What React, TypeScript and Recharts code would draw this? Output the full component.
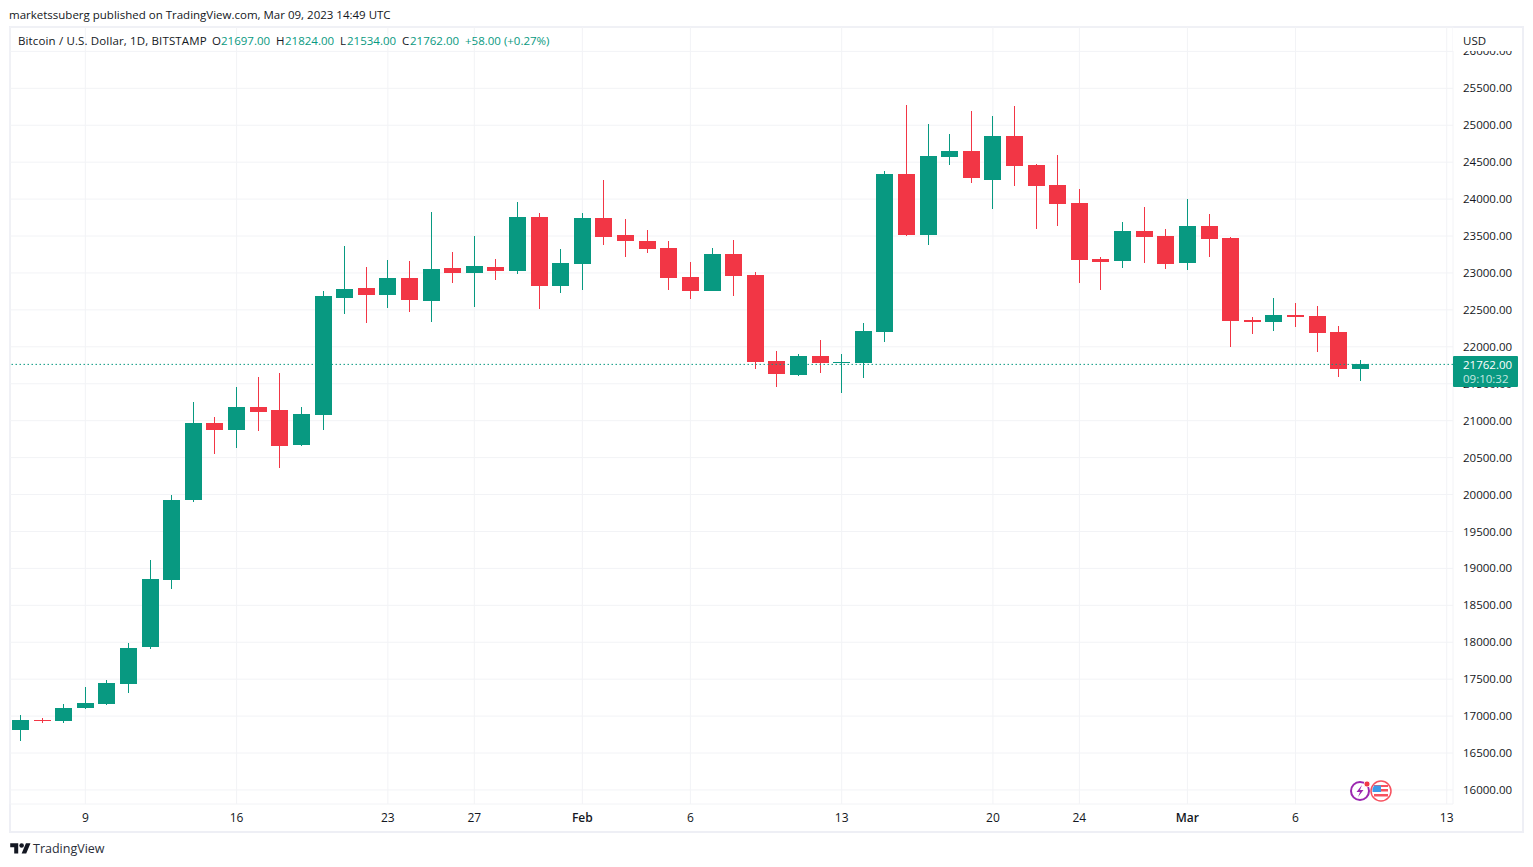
import React from 'react';
import { ComposedChart, Bar, XAxis, YAxis, CartesianGrid, ReferenceLine } from 'recharts';

const GREEN = '#089981';
const RED = '#f23645';
const INK = '#131722';
const GRID = '#f2f3f6';
const FRAME = '#eeeff5';
const FONT = "'Open Sans', sans-serif";

// daily BTCUSD candles, Jan 6 to Mar 9 2023
const opens = [
  16811, 16948, 16934, 17110, 17164, 17435, 17936, 18843, 19927, 20969, 20874, 21186, 21145,
  20671, 21078, 22662, 22797, 22702, 22932, 22621, 23068, 23000, 23081, 23027, 23758, 22824,
  23122, 23745, 23515, 23433, 23339, 22946, 22756, 23257, 22973, 21809, 21619, 21876, 21782,
  21782, 22201, 24341, 23515, 24571, 24652, 24259, 24855, 24462, 24192, 23948, 23190, 23163,
  23569, 23501, 23136, 23637, 23474, 22364, 22337, 22432, 22418, 22201, 21697,
];
const highs = [
  17015, 16971, 17164, 17395, 17489, 17990, 19114, 19994, 21254, 21050, 21457, 21592, 21646,
  21186, 22756, 23366, 23081, 23176, 23163, 23826, 23285, 23501, 23190, 23962, 23813, 23325,
  23813, 24259, 23731, 23582, 23433, 23149, 23339, 23447, 23014, 21944, 21903, 22093, 21903,
  22323, 24381, 25275, 25018, 24882, 25194, 25126, 25261, 24476, 24598, 24138, 23217, 23691,
  23894, 23596, 24002, 23799, 23488, 22404, 22662, 22594, 22553, 22283, 21824,
];
const lows = [
  16662, 16911, 16911, 17100, 17150, 17313, 17909, 18722, 19900, 20549, 20631, 20861, 20360,
  20658, 20874, 22445, 22323, 22526, 22472, 22337, 22865, 22540, 22905, 22987, 22513, 22729,
  22770, 23379, 23217, 23271, 22770, 22648, 22750, 22689, 21700, 21457, 21610, 21646, 21375,
  21578, 22066, 23500, 23379, 24462, 24219, 23867, 24178, 23596, 23637, 22865, 22770, 23068,
  23136, 23054, 23041, 23217, 21998, 22174, 22215, 22269, 21931, 21592, 21534,
];
const closes = [
  16947, 16930, 17110, 17178, 17449, 17923, 18857, 19927, 20969, 20874, 21186, 21118, 20658,
  21091, 22689, 22784, 22702, 22932, 22635, 23054, 23000, 23095, 23027, 23758, 22824, 23136,
  23745, 23488, 23433, 23325, 22932, 22756, 23257, 22960, 21795, 21633, 21876, 21782, 21795,
  22215, 24341, 23515, 24584, 24652, 24286, 24855, 24449, 24178, 23934, 23176, 23149, 23569,
  23488, 23122, 23637, 23461, 22350, 22337, 22432, 22404, 22188, 21700, 21762,
];

const priceTicks = [
  16000, 16500, 17000, 17500, 18000, 18500, 19000, 19500, 20000, 20500, 21000, 21500, 22000,
  22500, 23000, 23500, 24000, 24500, 25000, 25500, 26000,
];
const dayTicks = [3, 10, 17, 21, 26, 31, 38, 45, 49, 54, 59, 66];
const dayLabels = ['9', '16', '23', '27', 'Feb', '6', '13', '20', '24', 'Mar', '6', '13'];

const lastPrice = 21762;

const candles = opens.map((open, i) => ({
  idx: i,
  open,
  high: highs[i],
  low: lows[i],
  close: closes[i],
  range: [lows[i], highs[i]],
}));

const Candle = (props: any) => {
  const { x, y, width, height, payload } = props;
  const { open, high, low, close } = payload;
  const perUnit = height / (high - low);
  // snap to whole pixels so bodies and wicks stay crisp
  const left = Math.round(x + 0.3);
  const wickTop = Math.round(y);
  const wickBottom = Math.round(y + height);
  const top = Math.round(y + (high - Math.max(open, close)) * perUnit);
  const bottom = Math.round(y + (high - Math.min(open, close)) * perUnit);
  const color = close >= open ? GREEN : RED;
  return (
    <g shapeRendering="crispEdges">
      <rect x={left + 8} y={wickTop} width={1} height={wickBottom - wickTop} fill={color} />
      <rect x={left} y={top} width={width} height={Math.max(bottom - top, 1)} fill={color} />
    </g>
  );
};

const DayTick = (props: any) => {
  const { x, y, payload } = props;
  const label = dayLabels[dayTicks.indexOf(payload.value)];
  const isMonth = label === 'Feb' || label === 'Mar';
  return (
    <text x={x} y={y} textAnchor="middle" dominantBaseline="central" fontFamily={FONT} fontSize={12} fontWeight={isMonth ? 600 : 400} fill={INK}>
      {label}
    </text>
  );
};

const abs = (left: number, top: number): React.CSSProperties => ({
  position: 'absolute',
  left,
  top,
  fontFamily: FONT,
  fontSize: 11.5,
  lineHeight: '16px',
  color: INK,
  whiteSpace: 'nowrap',
});

const legend: [number, string, string][] = [
  [212, 'O', INK],
  [221, '21697.00', GREEN],
  [276, 'H', INK],
  [285, '21824.00', GREEN],
  [340, 'L', INK],
  [347, '21534.00', GREEN],
  [402, 'C', INK],
  [410, '21762.00', GREEN],
  [465, '+58.00 (+0.27%)', GREEN],
];

export default function App() {
  return (
    <div style={{ position: 'absolute', left: 0, top: 0, width: 1533, height: 867, background: '#fff', overflow: 'hidden' }}>
      <div style={{ position: 'absolute', left: 9, top: 26, width: 1515, height: 807, boxSizing: 'border-box', border: `2px solid ${FRAME}` }} />
      <div style={{ position: 'absolute', left: 0, top: 0 }}>
        <ComposedChart
          width={1533}
          height={867}
          data={candles}
          margin={{ top: 27, right: 10, bottom: 36, left: 10 }}
        >
          <CartesianGrid stroke={GRID} strokeWidth={1} />
          <XAxis
            dataKey="idx"
            type="number"
            domain={[-0.486, 66.29]}
            ticks={dayTicks}
            interval={0}
            height={27}
            axisLine={false}
            tickLine={false}
            tickSize={0}
            tickMargin={13}
            tick={<DayTick />}
          />
          <YAxis
            orientation="right"
            type="number"
            domain={[15810, 26330]}
            ticks={priceTicks}
            interval={0}
            width={70}
            axisLine={false}
            tickLine={false}
            tickSize={0}
            tickMargin={10}
            tick={{ fontFamily: FONT, fontSize: 11.5, fill: INK }}
            tickFormatter={(v: number) => v.toFixed(2)}
          />
          <Bar dataKey="range" barSize={17} isAnimationActive={false} shape={<Candle />} />
          <ReferenceLine y={lastPrice} stroke={GREEN} strokeWidth={1} strokeDasharray="1.5 2.5" />
        </ComposedChart>
      </div>
      <div style={abs(9, 7)}>marketssuberg published on TradingView.com, Mar 09, 2023 14:49 UTC</div>
      <div style={{ ...abs(18, 33), letterSpacing: 0.14 }}>Bitcoin / U.S. Dollar, 1D, BITSTAMP</div>
      {legend.map(([left, text, color]) => (
        <div key={left} style={{ ...abs(left, 33), color }}>{text}</div>
      ))}
      <div style={{ ...abs(1453, 28), width: 68, height: 23, background: '#fff', paddingLeft: 10, boxSizing: 'border-box', lineHeight: '25px' }}>USD</div>
      <div style={{ position: 'absolute', left: 1453, top: 356, width: 65, height: 31, background: GREEN, borderRadius: 1 }} />
      <div style={{ ...abs(1463, 357), color: '#fff' }}>21762.00</div>
      <div style={{ ...abs(1463, 371), color: '#c5e7e0' }}>09:10:32</div>
      <svg style={{ position: 'absolute', left: 1348, top: 778 }} width={46} height={26} viewBox="0 0 46 26">
        <circle cx={12} cy={13} r={9} fill="#fff" stroke="#9c27b0" strokeWidth={2} />
        <path d="M14 7 L8.5 14 L12 14 L10 19 L15.5 12 L12 12 Z" fill="#9c27b0" />
        <circle cx={19} cy={6} r={3} fill={RED} stroke="#fff" strokeWidth={0.8} />
        <circle cx={33} cy={13} r={10} fill="#fff" stroke="#f7525f" strokeWidth={1.5} />
        <rect x={26} y={11} width={14} height={2.5} fill="#f7525f" />
        <rect x={26} y={16} width={14} height={2.5} fill="#f7525f" />
        <rect x={26} y={7} width={14} height={2} fill="#f7525f" />
        <path d="M26 7.5 L33 7.5 L33 14 L24.6 14 A8.5 8.5 0 0 1 26 7.5 Z" fill="#3d9be9" />
      </svg>
      <svg style={{ position: 'absolute', left: 10, top: 841 }} width={21} height={16} viewBox="0 0 36 28" fill={INK}>
        <path d="M14 22H7V11H0V4h14v18zM28 22h-8l7.5-18h8L28 22z" />
        <circle cx={20} cy={8} r={4} />
      </svg>
      <div style={{ ...abs(33, 841), fontSize: 12.5, color: '#2a2e39' }}>TradingView</div>
    </div>
  );
}
